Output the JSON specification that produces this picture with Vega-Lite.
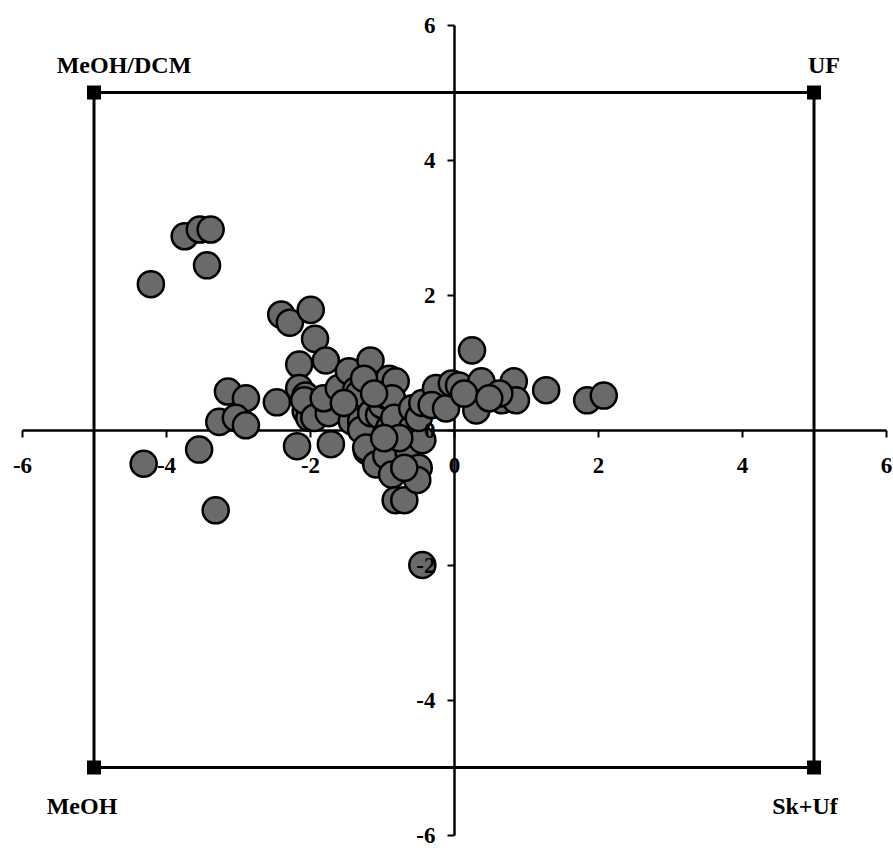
{
  "$schema": "https://vega.github.io/schema/vega-lite/v6.json",
  "width": 864,
  "height": 810,
  "autosize": {"type": "none"},
  "padding": {"left": 22, "top": 25, "right": 7, "bottom": 16},
  "background": "white",
  "config": {"view": {"stroke": null}, "font": "Liberation Serif"},
  "datasets": {
    "frame": [
      {"x": -5, "y": 5, "x2": 5, "y2": 5},
      {"x": 5, "y": 5, "x2": 5, "y2": -5},
      {"x": 5, "y": -5, "x2": -5, "y2": -5},
      {"x": -5, "y": -5, "x2": -5, "y2": 5}
    ],
    "corners": [
      {"x": -5, "y": 5, "label": "MeOH/DCM"},
      {"x": 5, "y": 5, "label": "UF"},
      {"x": -5, "y": -5, "label": "MeOH"},
      {"x": 5, "y": -5, "label": "Sk+Uf"}
    ],
    "pts": [
      {"x": -4.21, "y": 2.16}, {"x": -3.74, "y": 2.87}, {"x": -3.53, "y": 2.97}, {"x": -3.38, "y": 2.97}, {"x": -3.43, "y": 2.44},
      {"x": -4.31, "y": -0.5}, {"x": -3.54, "y": -0.29}, {"x": -3.31, "y": -1.19}, {"x": -3.14, "y": 0.57}, {"x": -2.89, "y": 0.47},
      {"x": -3.26, "y": 0.12}, {"x": -3.03, "y": 0.18}, {"x": -2.89, "y": 0.07}, {"x": -2.46, "y": 0.41},
      {"x": -2.4, "y": 1.71}, {"x": -2.28, "y": 1.59}, {"x": -1.99, "y": 1.78}, {"x": -1.93, "y": 1.35}, {"x": -2.15, "y": 0.97},
      {"x": -1.78, "y": 1.03}, {"x": -2.15, "y": 0.62}, {"x": -2.06, "y": 0.51}, {"x": -1.88, "y": 0.35}, {"x": -2.06, "y": 0.28},
      {"x": -2.01, "y": 0.18}, {"x": -2.18, "y": -0.24}, {"x": -1.71, "y": -0.21}, {"x": -2.08, "y": 0.44}, {"x": -1.94, "y": 0.18},
      {"x": -1.74, "y": 0.25}, {"x": -1.81, "y": 0.47}, {"x": -1.6, "y": 0.62},
      {"x": -1.46, "y": 0.87}, {"x": -1.36, "y": 0.59}, {"x": -1.16, "y": 1.03}, {"x": -1.32, "y": 0.54}, {"x": -1.42, "y": 0.13},
      {"x": -1.29, "y": 0.13}, {"x": -1.29, "y": 0.0}, {"x": -1.21, "y": -0.31}, {"x": -1.22, "y": -0.26}, {"x": -1.08, "y": -0.51},
      {"x": -1.15, "y": 0.25}, {"x": -1.04, "y": 0.22}, {"x": -1.0, "y": 0.37}, {"x": -0.94, "y": 0.51}, {"x": -1.0, "y": 0.59},
      {"x": -0.9, "y": 0.76}, {"x": -0.81, "y": 0.72}, {"x": -0.86, "y": 0.47}, {"x": -0.9, "y": 0.03}, {"x": -0.83, "y": 0.18},
      {"x": -0.94, "y": -0.38}, {"x": -0.86, "y": -0.66}, {"x": -0.81, "y": -1.04}, {"x": -0.69, "y": -1.04}, {"x": -0.63, "y": -0.34},
      {"x": -0.58, "y": 0.03}, {"x": -0.58, "y": 0.32}, {"x": -0.49, "y": -0.56}, {"x": -0.51, "y": -0.74}, {"x": -0.44, "y": -0.15},
      {"x": -0.44, "y": -2.0}, {"x": -0.35, "y": 0.43}, {"x": -0.21, "y": 0.57}, {"x": -0.49, "y": 0.18}, {"x": -0.44, "y": 0.4},
      {"x": -0.25, "y": 0.62}, {"x": -0.31, "y": 0.37}, {"x": -0.11, "y": 0.32}, {"x": -1.53, "y": 0.4}, {"x": -1.25, "y": 0.76},
      {"x": -1.11, "y": 0.54}, {"x": -0.76, "y": -0.12}, {"x": -0.69, "y": -0.56}, {"x": -0.97, "y": -0.12},
      {"x": -0.03, "y": 0.69}, {"x": 0.07, "y": 0.66}, {"x": 0.25, "y": 1.18}, {"x": 0.38, "y": 0.72}, {"x": 0.31, "y": 0.29},
      {"x": 0.67, "y": 0.44}, {"x": 0.83, "y": 0.72}, {"x": 0.86, "y": 0.44}, {"x": 0.63, "y": 0.54}, {"x": 1.28, "y": 0.59},
      {"x": 1.85, "y": 0.44}, {"x": 2.08, "y": 0.51}, {"x": 0.14, "y": 0.54}, {"x": 0.49, "y": 0.47}
    ]
  },
  "resolve": {"axis": {"x": "independent", "y": "independent"}},
  "layer": [
    {
      "data": {"name": "frame"},
      "mark": {"type": "rule", "color": "black", "strokeWidth": 3},
      "encoding": {
        "x": {"field": "x", "type": "quantitative", "scale": {"domain": [-6, 6], "nice": false, "zero": false},
          "axis": {"orient": "bottom", "offset": -405, "values": [-6, -4, -2, 0, 2, 4, 6], "labels": false, "domainColor": "black", "domainWidth": 2.5, "tickColor": "black", "tickWidth": 2, "tickSize": 7, "grid": false, "title": null, "zindex": 0}},
        "y": {"field": "y", "type": "quantitative", "scale": {"domain": [-6, 6], "nice": false, "zero": false},
          "axis": {"orient": "left", "offset": -432, "values": [-6, -4, -2, 0, 2, 4, 6], "labels": false, "domainColor": "black", "domainWidth": 2.5, "tickColor": "black", "tickWidth": 2, "tickSize": 7, "grid": false, "title": null, "zindex": 0}},
        "x2": {"field": "x2"},
        "y2": {"field": "y2"}
      }
    },
    {
      "data": {"name": "pts"},
      "mark": {"type": "circle", "size": 680, "fill": "#6a6a6a", "stroke": "black", "strokeWidth": 2.5, "opacity": 1},
      "encoding": {
        "x": {"field": "x", "type": "quantitative", "axis": null},
        "y": {"field": "y", "type": "quantitative", "axis": null}
      }
    },
    {
      "data": {"name": "corners"},
      "mark": {"type": "square", "size": 196, "color": "black", "opacity": 1},
      "encoding": {
        "x": {"field": "x", "type": "quantitative", "axis": null},
        "y": {"field": "y", "type": "quantitative", "axis": null}
      }
    },
    {
      "data": {"name": "corners"},
      "transform": [{"filter": "datum.label == 'MeOH/DCM'"}],
      "mark": {"type": "text", "font": "Liberation Serif", "fontWeight": "bold", "fontSize": 24, "color": "black", "align": "center", "baseline": "alphabetic", "dx": 30, "dy": -20},
      "encoding": {
        "x": {"field": "x", "type": "quantitative", "axis": null},
        "y": {"field": "y", "type": "quantitative", "axis": null},
        "text": {"field": "label"}
      }
    },
    {
      "data": {"name": "corners"},
      "transform": [{"filter": "datum.label == 'UF'"}],
      "mark": {"type": "text", "font": "Liberation Serif", "fontWeight": "bold", "fontSize": 24, "color": "black", "align": "center", "baseline": "alphabetic", "dx": 10, "dy": -20},
      "encoding": {
        "x": {"field": "x", "type": "quantitative", "axis": null},
        "y": {"field": "y", "type": "quantitative", "axis": null},
        "text": {"field": "label"}
      }
    },
    {
      "data": {"name": "corners"},
      "transform": [{"filter": "datum.label == 'MeOH'"}],
      "mark": {"type": "text", "font": "Liberation Serif", "fontWeight": "bold", "fontSize": 24, "color": "black", "align": "center", "baseline": "alphabetic", "dx": -12, "dy": 46},
      "encoding": {
        "x": {"field": "x", "type": "quantitative", "axis": null},
        "y": {"field": "y", "type": "quantitative", "axis": null},
        "text": {"field": "label"}
      }
    },
    {
      "data": {"name": "corners"},
      "transform": [{"filter": "datum.label == 'Sk+Uf'"}],
      "mark": {"type": "text", "font": "Liberation Serif", "fontWeight": "bold", "fontSize": 24, "color": "black", "align": "center", "baseline": "alphabetic", "dx": -9, "dy": 46},
      "encoding": {
        "x": {"field": "x", "type": "quantitative", "axis": null},
        "y": {"field": "y", "type": "quantitative", "axis": null},
        "text": {"field": "label"}
      }
    },
    {
      "data": {"name": "corners"},
      "mark": {"type": "point", "opacity": 0},
      "encoding": {
        "x": {"field": "x", "type": "quantitative",
          "axis": {"orient": "bottom", "offset": -405, "values": [-6, -4, -2, 0, 2, 4, 6], "labelExpr": "'' + datum.value", "domain": false, "ticks": true, "tickOpacity": 0, "tickSize": 7, "labels": true, "labelFont": "Liberation Serif", "labelFontWeight": "bold", "labelFontSize": 23, "labelColor": "black", "labelPadding": 17, "labelFlush": false, "labelOverlap": false, "grid": false, "title": null, "zindex": 1}},
        "y": {"field": "y", "type": "quantitative",
          "axis": {"orient": "left", "offset": -432, "values": [-6, -4, -2, 0, 2, 4, 6], "labelExpr": "'' + datum.value", "domain": false, "ticks": true, "tickOpacity": 0, "tickSize": 7, "labels": true, "labelFont": "Liberation Serif", "labelFontWeight": "bold", "labelFontSize": 23, "labelColor": "black", "labelPadding": 12, "labelFlush": false, "labelOverlap": false, "grid": false, "title": null, "zindex": 1}}
      }
    }
  ]
}
